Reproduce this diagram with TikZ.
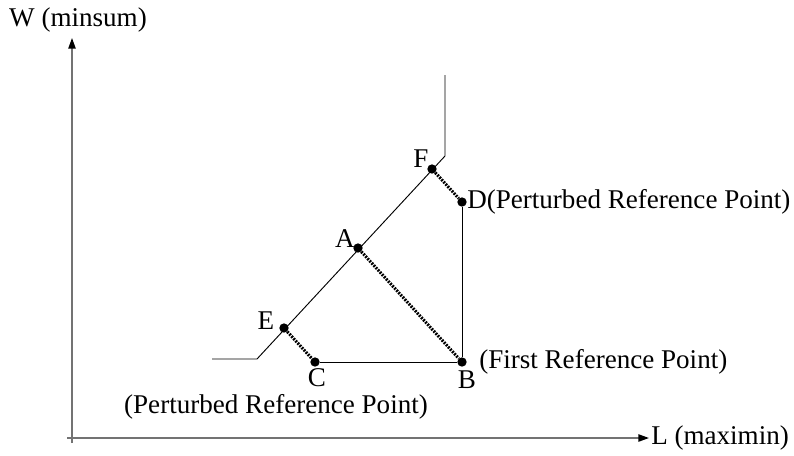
\documentclass[tikz,border=0pt]{standalone}
\usepackage{fontspec}
\setmainfont{Liberation Serif}
\usetikzlibrary{arrows.meta}

\begin{document}
\begin{tikzpicture}[x=0.75pt,y=-0.75pt,
    every node/.style={font=\fontsize{20.3}{23}\selectfont,inner sep=0pt},
    refpt/.style={circle,fill,inner sep=0pt,minimum size=7pt},
    axis/.style={draw=black!55,line width=1.1pt,-{Triangle[length=8pt,width=5.5pt,color=black]}},
    front/.style={line width=0.7pt},
    perturb/.style={line width=2.3pt,dash pattern=on 1.4pt off 0.9pt}]
  \useasboundingbox (0,0) rectangle (794,455);

  % axes
  \coordinate (ybot) at (72,443);
  \coordinate (ytop) at (72,38);
  \coordinate (xleft) at (67,438);
  \coordinate (xright) at (649,438);
  \draw[axis] (ybot) -- (ytop);
  \draw[axis] (xleft) -- (xright);
  \node (wlabel) at (78,20) {W (minsum)};
  \node[anchor=west] (llabel) at (651,438) {L (maximin)};

  % front
  \coordinate (f0) at (212,359);
  \coordinate (f1) at (257,359);
  \coordinate (f2) at (445,156);
  \coordinate (f3) at (445,75);
  \draw[front] (f0) -- (f1) -- (f2) -- (f3);

  % reference points
  \node[refpt] (A) at (358,248) {};
  \node[refpt] (B) at (462,362) {};
  \node[refpt] (C) at (315,362) {};
  \node[refpt] (D) at (462,202) {};
  \node[refpt] (E) at (284,328) {};
  \node[refpt] (F) at (432,169) {};

  \draw[front] (C) -- (B) -- (D);
  \draw[perturb] (A) -- (B);
  \draw[perturb] (E) -- (C);
  \draw[perturb] (F) -- (D);

  % labels
  \node (lblA) at (345,239) {A};
  \node (lblE) at (266,321) {E};
  \node (lblF) at (421,159) {F};
  \node (lblC) at (317,378) {C};
  \node (lblB) at (467,380) {B};
  \node[anchor=west] (lblD) at (467,202) {D(Perturbed Reference Point)};
  \node[anchor=west] (firstref) at (479,362) {(First Reference Point)};
  \node (pertref) at (276,407) {(Perturbed Reference Point)};
\end{tikzpicture}
\end{document}
